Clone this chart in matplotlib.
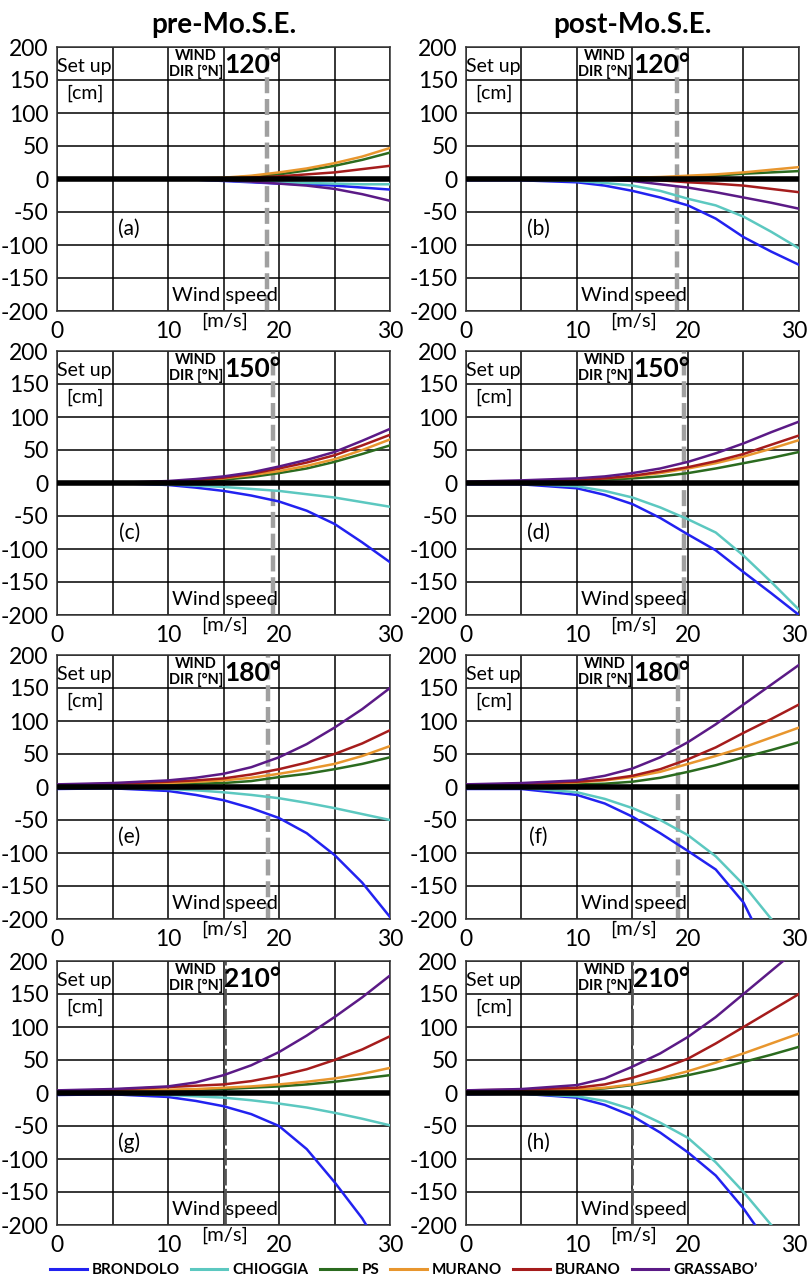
import numpy as np
import matplotlib.pyplot as plt
import matplotlib.transforms as mtransforms
from matplotlib.ticker import MultipleLocator

plt.rcParams['font.family'] = ['Lato', 'DejaVu Sans']
plt.rcParams['axes.unicode_minus'] = False

# wind speed [m/s] where the curves were read
speed = [0, 5, 10, 12.5, 15, 17.5, 20, 22.5, 25, 27.5, 30]

stations = ['BRONDOLO', 'CHIOGGIA', 'PS', 'MURANO', 'BURANO', "GRASSABO’"]
colors = ['#2222f0', '#5cc8c0', '#2b6b1f', '#e8962e', '#a51c1c', '#5b1a86']

directions = ['120°', '120°', '150°', '150°', '180°', '180°', '210°', '210°']
letters = ['(a)', '(b)', '(c)', '(d)', '(e)', '(f)', '(g)', '(h)']
# threshold wind speed (dashed line) per panel
threshold = [18.9, 19.0, 19.5, 19.6, 19.0, 19.1, 15.1, 15.0]

# set up [cm], order: brondolo, chioggia, ps, murano, burano, grassabo
setup_a = [
    [0, 0, 0, -1, -3, -5, -7, -8, -10, -13, -16],
    [0, 0, 0, -1, -2, -4, -5, -6, -7, -8, -8],
    [0, 0, 0, 0, 1, 4, 7, 13, 20, 29, 40],
    [0, 0, 0, 1, 2, 5, 10, 16, 24, 34, 47],
    [0, 0, 0, 0, 0, 2, 4, 7, 10, 15, 20],
    [0, 0, 0, -1, -2, -4, -7, -10, -15, -23, -33],
]
setup_b = [
    [-2, -2, -5, -10, -18, -28, -40, -60, -88, -110, -130],
    [-1, -1, -3, -6, -10, -18, -30, -40, -57, -80, -105],
    [0, 0, 0, 1, 2, 2, 3, 5, 8, 10, 12],
    [0, 0, 0, 1, 2, 3, 5, 7, 10, 14, 18],
    [0, 0, 0, 0, 0, -2, -5, -7, -10, -15, -20],
    [0, 0, 0, -1, -3, -8, -13, -20, -28, -36, -45],
]
setup_c = [
    [0, 0, -3, -7, -12, -19, -28, -42, -62, -90, -120],
    [0, 0, -2, -4, -6, -9, -12, -17, -22, -29, -36],
    [0, 0, 1, 3, 5, 9, 15, 22, 32, 44, 57],
    [0, 0, 2, 4, 7, 12, 18, 26, 36, 50, 66],
    [0, 0, 2, 4, 8, 14, 22, 31, 42, 57, 73],
    [0, 0, 3, 6, 10, 16, 25, 35, 47, 64, 82],
]
setup_d = [
    [-2, -2, -8, -18, -32, -53, -78, -102, -135, -167, -200],
    [-1, -1, -5, -12, -22, -37, -55, -75, -110, -150, -192],
    [1, 1, 3, 5, 7, 10, 15, 22, 30, 38, 47],
    [1, 2, 4, 7, 10, 15, 22, 30, 40, 52, 65],
    [1, 2, 4, 7, 11, 17, 24, 33, 44, 58, 72],
    [2, 4, 7, 10, 15, 22, 32, 45, 60, 77, 93],
]
setup_e = [
    [-3, -2, -6, -12, -20, -32, -47, -70, -103, -145, -197],
    [-1, -1, -3, -5, -8, -12, -17, -24, -32, -41, -50],
    [2, 3, 4, 5, 6, 9, 15, 20, 27, 35, 45],
    [3, 4, 6, 8, 10, 14, 20, 27, 35, 47, 62],
    [3, 5, 8, 10, 13, 19, 27, 37, 50, 66, 86],
    [4, 6, 10, 14, 20, 30, 45, 65, 90, 118, 150],
]
setup_f = [
    [-3, -3, -12, -25, -45, -70, -97, -125, -175, -260, -340],
    [-1, -1, -8, -18, -32, -50, -73, -105, -148, -200, -260],
    [2, 3, 4, 5, 8, 14, 23, 33, 45, 56, 68],
    [3, 4, 7, 10, 15, 23, 35, 47, 60, 75, 90],
    [3, 5, 8, 11, 17, 27, 42, 60, 82, 103, 125],
    [4, 6, 10, 17, 28, 45, 68, 95, 125, 155, 185],
]
setup_g = [
    [-3, -2, -6, -12, -20, -32, -50, -85, -135, -190, -260],
    [-1, -1, -3, -5, -7, -11, -16, -22, -30, -39, -49],
    [2, 3, 4, 5, 6, 8, 10, 13, 17, 22, 27],
    [3, 4, 5, 6, 8, 10, 13, 17, 22, 29, 38],
    [3, 5, 9, 11, 13, 18, 26, 36, 50, 66, 86],
    [4, 6, 10, 16, 27, 42, 62, 87, 115, 145, 178],
]
setup_h = [
    [-2, -1, -7, -18, -35, -60, -90, -125, -175, -235, -300],
    [-1, -1, -5, -12, -25, -45, -68, -105, -150, -200, -255],
    [2, 3, 4, 7, 12, 19, 27, 36, 47, 58, 70],
    [3, 4, 5, 8, 13, 22, 33, 46, 60, 75, 90],
    [4, 5, 8, 13, 23, 36, 52, 75, 100, 125, 150],
    [4, 6, 12, 22, 40, 60, 85, 115, 150, 185, 220],
]
panels = [setup_a, setup_b, setup_c, setup_d, setup_e, setup_f, setup_g, setup_h]

W, H = 808, 1286
fig = plt.figure(figsize=(W / 100, H / 100), dpi=100)

col_left = [57, 466]
col_width = 333
row_top = [47, 351, 655, 961]
row_height = 264

handles = []
for i, data in enumerate(panels):
	r, c = divmod(i, 2)
	ax = fig.add_axes([col_left[c] / W, 1 - (row_top[r] + row_height) / H,
					   col_width / W, row_height / H])
	ax.set_xlim(0, 30)
	ax.set_ylim(-200, 200)
	ax.set_xticks([0, 10, 20, 30])
	ax.xaxis.set_minor_locator(MultipleLocator(5))
	ax.yaxis.set_major_locator(MultipleLocator(50))
	ax.grid(True, which='both', color='black', lw=1.1)
	ax.set_axisbelow(True)
	ax.tick_params(which='both', length=0, labelsize=16.5)
	ax.tick_params(axis='y', pad=6)
	ax.tick_params(axis='x', pad=7)
	for s in ax.spines.values():
		s.set_color('#333333')
		s.set_linewidth(1.1)
	if c == 1:
		# keep the last speed label inside the figure
		lab = ax.get_xticklabels()[-1]
		lab.set_horizontalalignment('right')
		lab.set_transform(lab.get_transform() +
						  mtransforms.ScaledTranslation(8 / 100, 0, fig.dpi_scale_trans))

	if r < 3:
		ax.axvline(threshold[i], color='#a0a0a0', lw=3.2, dashes=(3.6, 1.3), zorder=2)
	else:
		ax.axvline(threshold[i], color='#555555', lw=2.0, dashes=(6, 1.2), zorder=2)

	for vals, col, name in zip(data, colors, stations):
		ln, = ax.plot(speed, vals, color=col, lw=1.8, zorder=3, label=name)
		if i == 0:
			handles.append(ln)
	ax.axhline(0, color='black', lw=4, zorder=4)

	ax.text(2.5, 170, 'Set up', ha='center', va='center', fontsize=14)
	ax.text(2.5, 130, '[cm]', ha='center', va='center', fontsize=14)
	ax.text(12.5, 186, 'WIND', ha='center', va='center', fontsize=10.5, fontweight='bold')
	ax.text(12.5, 162, 'DIR [°N]', ha='center', va='center', fontsize=10.5, fontweight='bold')
	ax.text(17.6, 172, directions[i], ha='center', va='center', fontsize=19, fontweight='bold')
	ax.text(6.5, -76, letters[i], ha='center', va='center', fontsize=15)
	ax.text(15.1, -177, 'Wind speed', ha='center', va='center', fontsize=14.5)
	ax.text(15.1, -216, '[m/s]', ha='center', va='center', fontsize=14.5, clip_on=False)

	if r == 0:
		ax.set_title('pre-Mo.S.E.' if c == 0 else 'post-Mo.S.E.',
					 fontsize=20, fontweight='bold', pad=10)

leg = fig.legend(handles, stations, loc='center', bbox_to_anchor=(0.5, 1 - 1270 / H),
				 ncol=6, frameon=False, handlelength=2.4, columnspacing=0.7,
				 handletextpad=0.35, prop={'weight': 'bold', 'size': 11})
for l in leg.get_lines():
	l.set_linewidth(2.2)

fig.savefig('out.png', dpi=100)
